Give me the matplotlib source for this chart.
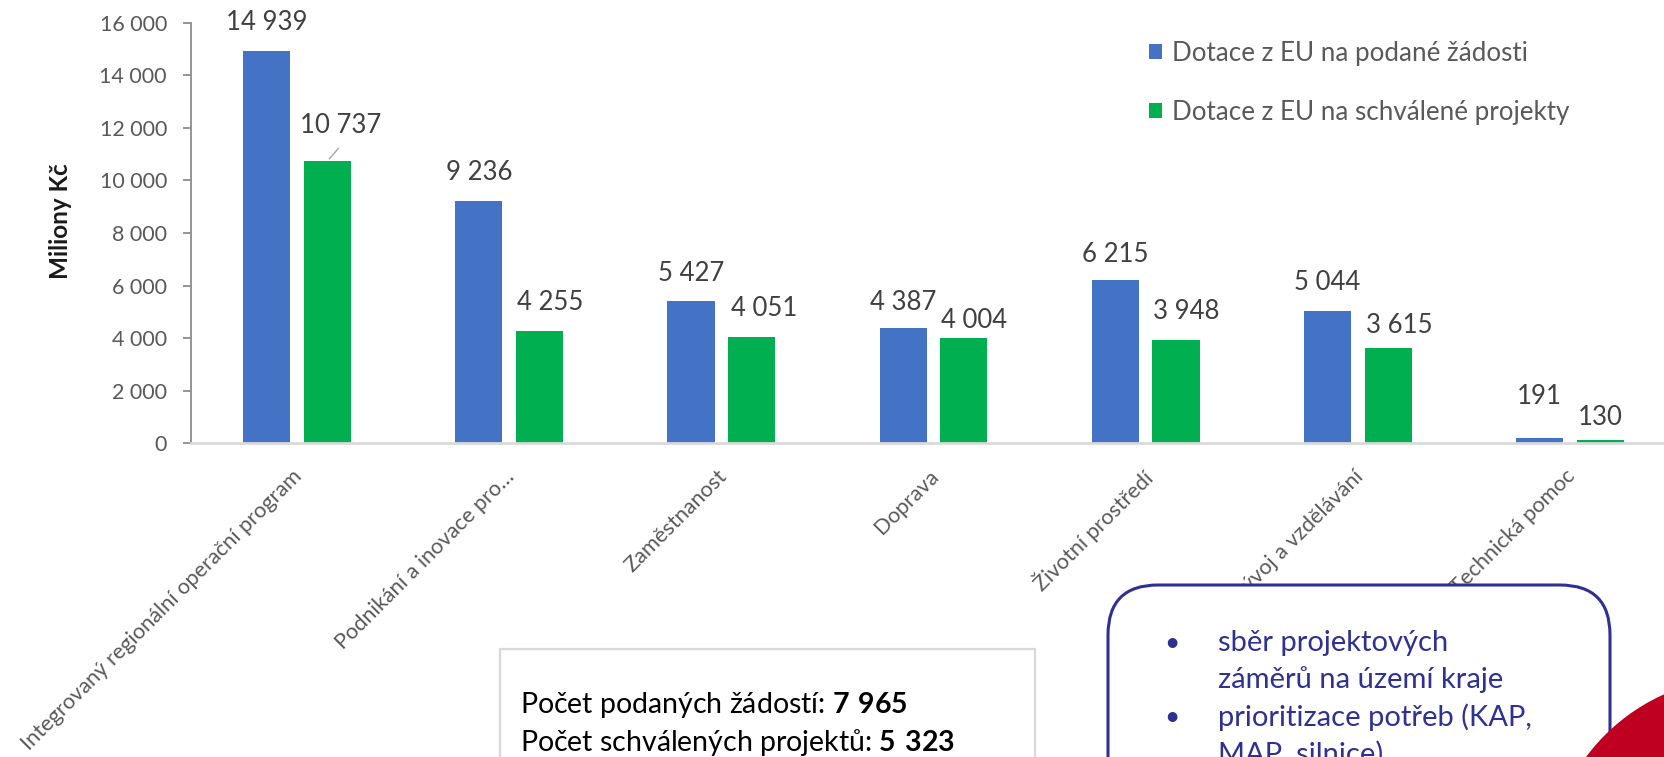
import numpy as np
import matplotlib as mpl
import matplotlib.pyplot as plt
from matplotlib.patches import FancyBboxPatch, Rectangle, Circle
from matplotlib.transforms import ScaledTranslation

plt.rcParams['font.family'] = ['Lato', 'DejaVu Sans']
plt.rcParams['mathtext.fontset'] = 'custom'
plt.rcParams['mathtext.rm'] = 'Lato'
plt.rcParams['mathtext.bf'] = 'Lato:bold'

# data
categories = ['Integrovaný regionální operační program', 'Podnikání a inovace pro…',
              'Zaměstnanost', 'Doprava', 'Životní prostředí',
              'Výzkum, vývoj a vzdělávání', 'Technická pomoc']
podane = [14939, 9236, 5427, 4387, 6215, 5044, 191]
schvalene = [10737, 4255, 4051, 4004, 3948, 3615, 130]
series_names = ['Dotace z EU na podané žádosti', 'Dotace z EU na schválené projekty']
y_ticks = [0, 2000, 4000, 6000, 8000, 10000, 12000, 14000, 16000]

# label offsets in pixels (dx, dy above bar top)
podane_dy = [28, 28, 27, 25, 25, 28, 42]
schvalene_dx = [13, 11, 12, 10, 10, 11, 0]
schvalene_dy = [36, 29, 28, 18, 28, 23, 22]

BLUE = '#4472C4'
GREEN = '#00B050'
GRAY_TXT = '#595959'
NAVY = '#2E3192'

W, H = 1664, 757
fig = plt.figure(figsize=(W / 100, H / 100), dpi=100)
ax = fig.add_axes([191 / W, (H - 443.3) / H, 1485 / W, 420.6 / H])

x = np.arange(len(categories))
bw = 0.222
off = 0.143
b1 = ax.bar(x - off, podane, bw, color=BLUE, label=series_names[0], zorder=2)
b2 = ax.bar(x + off, schvalene, bw, color=GREEN, label=series_names[1], zorder=2)

ax.set_xlim(-0.5, len(categories) - 0.5)
ax.set_ylim(0, 16000)

def fmt(v):
    return f'{v:,}'.replace(',', ' ')

px = 0.72  # points per pixel at dpi 100
for i, v in enumerate(podane):
    ax.annotate(fmt(v), (x[i] - off, v), xytext=(0, podane_dy[i] * px),
                textcoords='offset points', ha='center', va='center',
                fontsize=18.5, color='#404040')
for i, v in enumerate(schvalene):
    ax.annotate(fmt(v), (x[i] + off, v), xytext=(schvalene_dx[i] * px, schvalene_dy[i] * px),
                textcoords='offset points', ha='center', va='center',
                fontsize=18.5, color='#404040')
# leader line for the first green label
ax.annotate('', (x[0] + off, schvalene[0]), xytext=(13 * px, 15 * px),
            textcoords='offset points',
            arrowprops=dict(arrowstyle='-', color='#a6a6a6', lw=1))

# axes styling
for s in ['top', 'right']:
    ax.spines[s].set_visible(False)
ax.spines['left'].set_color('#8c8c8c')
ax.spines['left'].set_linewidth(1.3)
ax.spines['bottom'].set_color('#d9d9d9')
ax.spines['bottom'].set_linewidth(2)

ax.set_yticks(y_ticks, [fmt(t) for t in y_ticks])
ax.tick_params(axis='y', length=5.8, width=1.3, color='#8c8c8c', pad=11.5,
               labelsize=15.5, labelcolor=GRAY_TXT)
ax.set_xticks(x, categories)
ax.tick_params(axis='x', length=0, pad=16.5, labelsize=15.7, labelcolor=GRAY_TXT)
for lab in ax.get_xticklabels():
    lab.set_rotation(45)
    lab.set_ha('right')
    lab.set_va('top')
    lab.set_rotation_mode('anchor')
    lab.set_transform(lab.get_transform() + ScaledTranslation(-5 / 100, 0, fig.dpi_scale_trans))

ax.set_ylabel('Miliony Kč', fontsize=17.5, fontweight='bold', color='#1a1a1a', va='center')
ax.yaxis.set_label_coords((60 - 191) / 1485, (443.3 - 221) / 420.6)

ax.legend(loc='upper left', bbox_to_anchor=(1149 / W, 1 - 40.5 / H), bbox_transform=fig.transFigure,
          frameon=False, fontsize=18.75, labelcolor=GRAY_TXT, handlelength=0.5, handleheight=0.5,
          handletextpad=0.38, labelspacing=1.33, borderpad=0, borderaxespad=0)

# overlay shapes (pixel based, via inches)
T = fig.dpi_scale_trans
def py(y):
    return (H - y) / 100

fig.add_artist(Rectangle((500 / 100, py(800)), (1035 - 500) / 100, (800 - 649) / 100,
                         transform=T, facecolor='white', edgecolor='#d9d9d9', lw=1.6, zorder=5))
fig.text(520 / W, 1 - 705 / H, 'Počet podaných žádostí: $\\mathbf{7\\ 965}$', fontsize=20.5,
         color='black', va='center', ha='left', zorder=6)
fig.text(520 / W, 1 - 742 / H, 'Počet schválených projektů: $\\mathbf{5\\ 323}$', fontsize=20.5,
         color='black', va='center', ha='left', zorder=6)

fig.add_artist(FancyBboxPatch((1108 / 100, py(820)), (1610 - 1108) / 100, (820 - 585) / 100,
                              boxstyle='round,pad=0,rounding_size=0.5', transform=T,
                              facecolor='white', edgecolor=NAVY, lw=2.2, zorder=5))
box_lines = [('•', 'sběr projektových'), ('', 'záměrů na území kraje'),
             ('•', 'prioritizace potřeb (KAP,'), ('', 'MAP, silnice)')]
for k, (b, t) in enumerate(box_lines):
    yy = 643 + 37 * k
    if b:
        fig.text(1172 / W, 1 - yy / H, b, fontsize=19, color=NAVY, ha='center', va='center', zorder=6)
    fig.text(1218 / W, 1 - yy / H, t, fontsize=21, color=NAVY, ha='left', va='center', zorder=6)

fig.add_artist(Circle((1745 / 100, py(875)), 1.98, transform=T, facecolor='#C00020',
                      edgecolor='none', zorder=7))

plt.savefig('out.png', dpi=100)
